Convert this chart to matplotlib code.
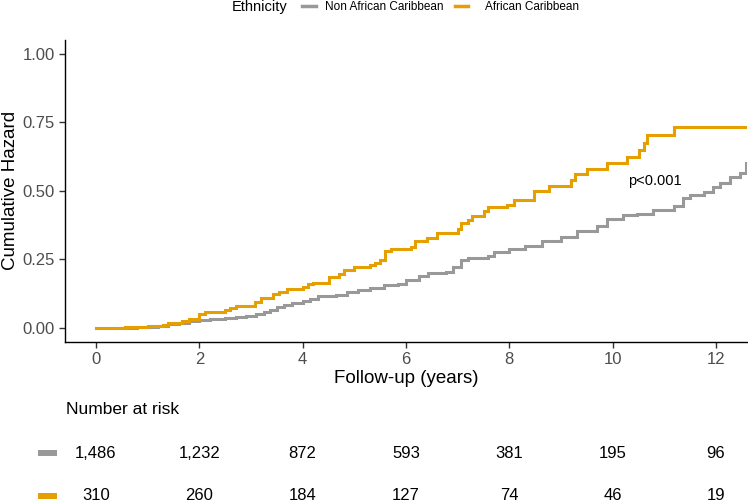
import matplotlib
matplotlib.use("Agg")
import matplotlib.pyplot as plt
from matplotlib.lines import Line2D
from matplotlib.patches import Rectangle
from matplotlib.transforms import blended_transform_factory

plt.rcParams['font.family'] = ['Liberation Sans', 'DejaVu Sans']

# ---- data ----
groups = ["Non African Caribbean", "African Caribbean"]
colors = ["#999999", "#E69F00"]

t_non = [0, 0.5, 0.8, 1.0, 1.2, 1.4, 1.6, 1.8, 2.0, 2.2, 2.5, 2.7, 2.9, 3.1, 3.25,
         3.37, 3.5, 3.63, 3.8, 4.0, 4.15, 4.3, 4.65, 4.85, 5.07, 5.3, 5.58, 5.84,
         6.0, 6.26, 6.43, 6.77, 6.9, 7.07, 7.2, 7.58, 7.71, 8.0, 8.3, 8.64, 9.0,
         9.31, 9.7, 9.89, 10.2, 10.47, 10.79, 11.18, 11.37, 11.5, 11.76, 11.95,
         12.08, 12.27, 12.47, 12.58, 12.6]
h_non = [0, 0.001, 0.003, 0.005, 0.009, 0.013, 0.018, 0.024, 0.030, 0.033, 0.037,
         0.040, 0.045, 0.052, 0.060, 0.067, 0.075, 0.082, 0.090, 0.098, 0.107,
         0.115, 0.121, 0.130, 0.139, 0.146, 0.155, 0.161, 0.176, 0.188, 0.201,
         0.203, 0.222, 0.248, 0.255, 0.264, 0.276, 0.288, 0.300, 0.318, 0.332,
         0.354, 0.371, 0.399, 0.411, 0.417, 0.430, 0.445, 0.473, 0.485, 0.497,
         0.515, 0.530, 0.552, 0.564, 0.601, 0.601]

t_ac = [0, 0.57, 1.0, 1.3, 1.4, 1.67, 1.8, 2.0, 2.1, 2.5, 2.6, 2.7, 3.08, 3.2,
        3.42, 3.55, 3.7, 4.0, 4.1, 4.2, 4.5, 4.7, 4.8, 5.0, 5.3, 5.4, 5.5, 5.6,
        5.7, 6.1, 6.18, 6.4, 6.6, 7.0, 7.07, 7.2, 7.28, 7.5, 7.58, 7.96, 8.09,
        8.47, 8.77, 9.19, 9.28, 9.51, 9.89, 10.28, 10.5, 10.6, 10.66, 11.18, 12.6]
h_ac = [0, 0.003, 0.006, 0.010, 0.020, 0.025, 0.034, 0.052, 0.058, 0.067, 0.073,
        0.079, 0.094, 0.110, 0.125, 0.133, 0.143, 0.149, 0.159, 0.163, 0.185,
        0.197, 0.212, 0.222, 0.230, 0.236, 0.248, 0.280, 0.287, 0.294, 0.318,
        0.327, 0.345, 0.362, 0.383, 0.393, 0.407, 0.427, 0.440, 0.449, 0.466,
        0.500, 0.518, 0.539, 0.561, 0.579, 0.602, 0.624, 0.648, 0.675, 0.703,
        0.733, 0.733]

risk_times = [0, 2, 4, 6, 8, 10, 12]
risk_non = ["1,486", "1,232", "872", "593", "381", "195", "96"]
risk_ac = ["310", "260", "184", "127", "74", "46", "19"]

p_text = "p<0.001"

# ---- figure ----
W, H = 748, 503
fig = plt.figure(figsize=(W / 100, H / 100), dpi=100)
left, right, bottom, top = 65, 747, 341.7, 40
ax = fig.add_axes([left / W, 1 - bottom / H, (right - left) / W, (bottom - top) / H])

ax.step(t_non, h_non, where="post", color=colors[0], lw=2.2, solid_joinstyle="miter")
ax.step(t_ac, h_ac, where="post", color=colors[1], lw=2.2, solid_joinstyle="miter")

ax.set_xlim(-0.6, 12.6)
ax.set_ylim(-0.05, 1.05)
ax.set_xticks(risk_times)
ax.set_yticks([0, 0.25, 0.5, 0.75, 1.0])
ax.set_yticklabels(["0.00", "0.25", "0.50", "0.75", "1.00"])
ax.tick_params(axis="both", labelsize=12, labelcolor="#4D4D4D", color="#333333",
               length=4, width=1)
for s in ["top", "right"]:
    ax.spines[s].set_visible(False)
for s in ["left", "bottom"]:
    ax.spines[s].set_linewidth(1)
    ax.spines[s].set_color("black")
ax.set_xlabel("Follow-up (years)", fontsize=13.5, labelpad=2)
ax.set_ylabel("Cumulative Hazard", fontsize=13.5, labelpad=2)

ax.text(10.82, 0.536, p_text, fontsize=10.5, ha="center", va="center")

# ---- legend at top ----
ly = 1 - 7 / H
fig.text(232 / W, ly, "Ethnicity", fontsize=10.5, ha="left", va="center")
fig.add_artist(Line2D([302 / W, 316 / W], [1 - 6 / H] * 2, color=colors[0], lw=2.5))
fig.text(325 / W, ly, groups[0], fontsize=8.5, ha="left", va="center")
fig.add_artist(Line2D([455 / W, 468 / W], [1 - 6 / H] * 2, color=colors[1], lw=2.5))
fig.text(485 / W, ly, groups[1], fontsize=8.5, ha="left", va="center")

# ---- risk table ----
fig.text(66 / W, 1 - 409 / H, "Number at risk", fontsize=12.5, ha="left", va="center")
trans = blended_transform_factory(ax.transData, fig.transFigure)
for rowy, vals, col in [(453, risk_non, colors[0]), (496, risk_ac, colors[1])]:
    yf = 1 - rowy / H
    fig.add_artist(Rectangle((38 / W, yf - 3 / H), 19 / W, 6 / H,
                             transform=fig.transFigure, color=col, lw=0))
    for t, v in zip(risk_times, vals):
        fig.text(t, yf, v, transform=trans, fontsize=12, ha="center", va="center")

fig.savefig("out.png", dpi=100)
